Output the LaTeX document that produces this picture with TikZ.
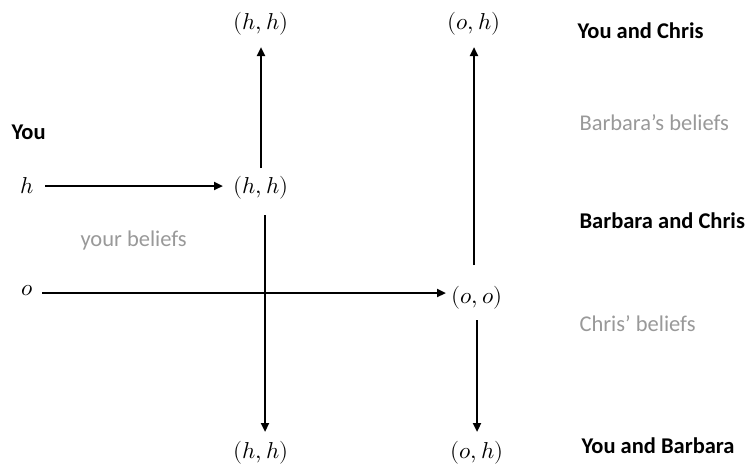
\documentclass[tikz,border=0pt]{standalone}
\usepackage{fontspec}
\usepackage{unicode-math}
\setmainfont{Carlito}
\setmathfont{Latin Modern Math}
\usetikzlibrary{arrows.meta}
\begin{document}
\begin{tikzpicture}[x=1pt,y=-1pt,
  lab/.style={font=\fontsize{22.5}{26}\selectfont\bfseries, anchor=west},
  bel/.style={font=\fontsize{22.5}{26}\selectfont, text=black!40, anchor=west},
  mth/.style={font=\fontsize{23}{26}\selectfont, inner sep=2pt},
  arr/.style={line width=2.5pt, -{Triangle[length=9pt,width=8pt]}}]
\useasboundingbox (0,0) rectangle (748,466);
% labels
\node[lab] (you) at (8,132) {You};
\node[lab] (yc) at (574,31) {You and Chris};
\node[lab] (bc) at (576,221) {Barbara and Chris};
\node[lab] (yb) at (578,446) {You and Barbara};
\node[bel] (bb) at (576,123) {Barbara’s beliefs};
\node[bel] (yrb) at (77,240) {your beliefs};
\node[bel] (cb) at (576,324) {Chris’ beliefs};
% math nodes
\node[mth] (h) at (27,186) {$h$};
\node[mth] (o) at (27,291) {$o$};
\node[mth] (hhm) at (261,188) {$(h,h)$};
\node[mth] (hht) at (261,24) {$(h,h)$};
\node[mth] (hhb) at (261,453) {$(h,h)$};
\node[mth] (oo) at (477,298) {$(o,o)$};
\node[mth] (oht) at (474,24) {$(o,h)$};
\node[mth] (ohb) at (477,453) {$(o,h)$};
% coordinates
\coordinate (hs) at (45,186);
\coordinate (he) at (223,186);
\coordinate (os) at (42,293);
\coordinate (oe) at (446,293);
\coordinate (u1s) at (261,168);
\coordinate (u1e) at (261,47);
\coordinate (d1s) at (265,215);
\coordinate (d1e) at (265,432);
\coordinate (u2s) at (474,265);
\coordinate (u2e) at (474,47);
\coordinate (d2s) at (477,320);
\coordinate (d2e) at (477,432);
% connectors
\draw[arr] (hs) -- (he);
\draw[arr] (os) -- (oe);
\draw[arr] (u1s) -- (u1e);
\draw[arr] (d1s) -- (d1e);
\draw[arr] (u2s) -- (u2e);
\draw[arr] (d2s) -- (d2e);
\end{tikzpicture}
\end{document}
